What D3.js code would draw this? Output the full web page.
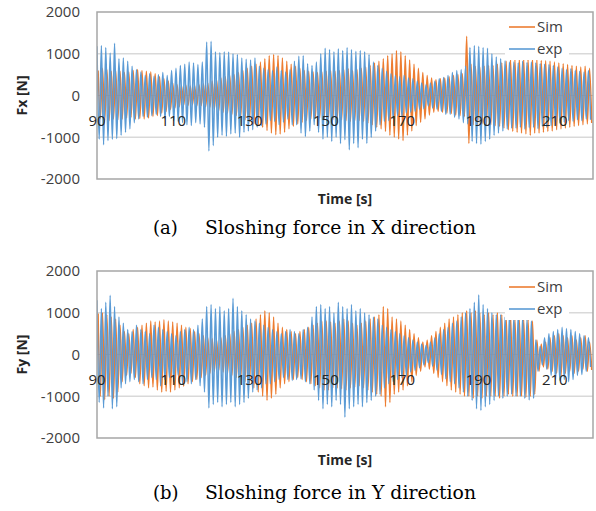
<!DOCTYPE html>
<html>
<head>
<meta charset="utf-8">
<script src="https://cdnjs.cloudflare.com/ajax/libs/d3/7.8.5/d3.min.js"></script>
<style>
  html, body { margin: 0; padding: 0; background: #ffffff; }
  svg { display: block; }
</style>
</head>
<body>
<svg id="chart" width="596" height="511"></svg>
<script>
// ---------------- DATA ----------------
// Time axis
const timeDomain = [90, 220];
const timeTicks = [90, 110, 130, 150, 170, 190, 210];
const forceTicks = [2000, 1000, 0, -1000, -2000];
const seriesNames = ["Sim", "exp"];

// Each series: successive extreme values (peak, trough, ...),
// one extreme per half oscillation (sloshing period ~1.15 s).
const halfPeriod = 0.575;
const startSim = 90.29;
const startExp = 90.0;

const fxSim = [
 600,-550, 650,-600, 620,-600, 580,-560, 600,-580,
 580,-560, 550,-540, 560,-520, 600,-560, 620,-550,
 600,-560, 580,-540, 560,-500, 520,-480, 450,-420,
 400,-380, 350,-340, 300,-300, 260,-270, 240,-230,
 250,-240, 230,-220, 240,-250, 260,-240, 280,-270,
 300,-280, 350,-330, 380,-360, 420,-400, 450,-420,
 480,-450, 500,-480, 550,-520, 600,-580, 650,-620,
 700,-680, 750,-720, 800,-760, 880,-840, 950,-900,
 980,-940, 960,-920, 900,-880, 820,-800, 750,-740,
 700,-680, 650,-640, 600,-600, 580,-560, 560,-540,
 550,-540, 560,-550, 580,-560, 600,-580, 580,-560,
 600,-580, 620,-600, 640,-620, 600,-600, 620,-600,
 650,-620, 680,-660, 720,-700, 780,-760, 820,-800,
 880,-860, 950,-950, 1000,-1000, 1080,-1040, 1050,-1080,
 950,-950, 850,-850, 750,-720, 650,-640, 550,-560,
 480,-470, 420,-400, 380,-380, 400,-400, 420,-420,
 450,-430, 480,-470, 500,-480, 520,-500, 1420,-1150,
 750,-700, 700,-700, 680,-680, 700,-700, 720,-700,
 720,-720, 750,-740, 780,-780, 820,-820, 850,-860,
 860,-880, 880,-900, 870,-920, 860,-950, 880,-900,
 850,-900, 840,-880, 830,-860, 820,-850, 800,-820,
 780,-800, 760,-780, 740,-760, 720,-740, 700,-720,
 680,-700, 700,-680, 650,-660
];

const fxExp = [
 1180,-1050, 1200,-1180, 1150,-1080, 1020,-1050, 1250,-1030,
 880,-950, 900,-880, 820,-800, 700,-650, 620,-560,
 560,-500, 480,-520, 520,-480, 460,-450, 500,-500,
 550,-560, 480,-500, 600,-600, 650,-620, 720,-650,
 750,-700, 800,-720, 780,-650, 740,-680, 800,-760,
 1280,-1330, 1300,-1200, 1050,-1000, 1030,-950, 1050,-980,
 1040,-920, 1000,-900, 980,-1000, 900,-880, 870,-850,
 850,-820, 900,-760, 700,-720, 650,-680, 620,-600,
 600,-620, 680,-700, 600,-640, 560,-560, 620,-700,
 820,-700, 940,-900, 950,-980, 760,-850, 720,-700,
 800,-880, 1000,-1050, 1130,-1000, 1100,-1100, 1050,-1000,
 1120,-1150, 1080,-1060, 1150,-1300, 1100,-1150, 1060,-1250,
 1080,-1050, 1050,-1150, 980,-1000, 800,-850, 720,-700,
 650,-620, 580,-600, 520,-550, 480,-480, 450,-500,
 480,-420, 420,-400, 400,-380, 350,-330, 300,-320,
 260,-250, 300,-300, 350,-330, 400,-380, 430,-450,
 480,-450, 550,-520, 600,-560, 620,-650, 700,-680,
 1150,-1100, 1200,-1150, 1180,-1170, 1150,-1100, 1130,-1050,
 1000,-950, 920,-900, 880,-850, 830,-800, 800,-780,
 800,-780, 780,-760, 820,-800, 790,-770, 800,-760,
 780,-790, 760,-740, 750,-760, 740,-720, 720,-700,
 680,-660, 650,-640, 620,-600, 640,-620, 600,-580,
 580,-600, 560,-560, 600,-580
];

const fySim = [
 980,-1000, 1000,-1080, 950,-1000, 900,-1050, 850,-900,
 700,-650, 550,-500, 500,-450, 600,-550, 650,-700,
 700,-750, 750,-800, 800,-780, 780,-850, 800,-900,
 830,-880, 800,-900, 780,-850, 750,-800, 700,-760,
 650,-700, 620,-650, 550,-600, 500,-550, 450,-500,
 400,-450, 380,-400, 350,-380, 400,-420, 450,-450,
 500,-500, 550,-550, 600,-600, 650,-650, 700,-700,
 750,-800, 850,-900, 950,-1000, 1050,-1100, 1000,-1050,
 900,-950, 750,-800, 650,-700, 600,-650, 550,-600,
 500,-550, 550,-600, 600,-650, 650,-700, 700,-750,
 750,-800, 800,-850, 800,-850, 780,-800, 750,-800,
 800,-820, 850,-850, 800,-800, 750,-780, 700,-750,
 750,-800, 800,-850, 850,-900, 900,-950, 950,-1000,
 1150,-1250, 1100,-1150, 900,-950, 850,-900, 800,-850,
 700,-750, 600,-650, 500,-500, 400,-400, 300,-300,
 350,-350, 450,-450, 550,-550, 650,-650, 750,-750,
 850,-850, 900,-900, 950,-950, 1000,-1000, 1050,-1000,
 1000,-1050, 1050,-1000, 1000,-1050, 950,-1000, 1000,-1000,
 950,-1000, 1000,-1050, 950,-1000, 900,-950, 950,-1000,
 850,-1000, 830,-1000, 830,-1020, 830,-1000, 800,-950,
 350,-400, 250,-300, 300,-350, 400,-400, 450,-450,
 500,-500, 450,-450, 400,-400, 450,-450, 350,-400,
 400,-350, 450,-400, 300,-370
];

const fyExp = [
 1300,-1150, 1100,-1280, 1250,-1000, 1420,-1300, 1150,-1250,
 900,-800, 750,-700, 600,-650, 550,-600, 700,-650,
 600,-700, 550,-600, 500,-550, 700,-600, 650,-750,
 600,-600, 550,-550, 500,-650, 450,-500, 550,-700,
 600,-650, 650,-700, 600,-600, 700,-750, 850,-900,
 1150,-1280, 1200,-1200, 1100,-1150, 1150,-1250, 1050,-1200,
 1100,-1150, 1350,-1250, 1150,-1200, 1050,-1150, 950,-1050,
 850,-900, 800,-850, 750,-800, 700,-700, 650,-700,
 600,-650, 550,-600, 500,-550, 550,-600, 600,-620,
 550,-600, 500,-580, 600,-650, 650,-700, 900,-850,
 1150,-1100, 1200,-1300, 1100,-1200, 1150,-1250, 1000,-1100,
 1250,-1200, 1150,-1500, 1100,-1300, 1200,-1250, 1050,-1200,
 1100,-1250, 1000,-1150, 950,-1100, 900,-1000, 850,-950,
 700,-800, 650,-700, 600,-650, 550,-600, 500,-550,
 450,-500, 400,-420, 350,-380, 300,-320, 250,-250,
 220,-200, 300,-280, 400,-380, 500,-480, 600,-580,
 650,-650, 750,-700, 800,-800, 900,-900, 1000,-1000,
 1100,-1100, 1250,-1300, 1430,-1340, 1200,-1250, 1100,-1200,
 1000,-1100, 950,-1000, 950,-1050, 900,-1000, 950,-950,
 900,-1000, 950,-1000, 900,-1050, 850,-1090, 800,-1050,
 350,-400, 200,-250, 400,-350, 500,-500, 550,-600,
 600,-620, 650,-600, 620,-650, 600,-600, 550,-500,
 500,-480, 450,-400, 400,-300
];

// ---------------- CHART ----------------
const svg = d3.select("#chart");
const colors = { Sim: "#ED7D31", exp: "#5B9BD5" };

const panels = [
  { top: 12, bottom: 179, yTitle: "Fx [N]", sim: fxSim, exp: fxExp,
    caption: "Sloshing force in X direction", tag: "(a)", timeY: 199, captionY: 234, legendY: 27 },
  { top: 271, bottom: 438, yTitle: "Fy [N]", sim: fySim, exp: fyExp,
    caption: "Sloshing force in Y direction", tag: "(b)", timeY: 460, captionY: 499, legendY: 287 }
];

const left = 97, right = 593;
const x = d3.scaleLinear().domain(timeDomain).range([left, right]);

panels.forEach((p, pi) => {
  const y = d3.scaleLinear().domain([-2000, 2000]).range([p.bottom, p.top]);
  const g = svg.append("g");

  const clipId = "clip" + pi;
  svg.append("clipPath").attr("id", clipId)
    .append("rect").attr("x", left).attr("y", p.top)
    .attr("width", right - left).attr("height", p.bottom - p.top);

  // gridlines
  g.append("g").selectAll("line").data([1000, -1000]).join("line")
    .attr("x1", left).attr("x2", right)
    .attr("y1", d => y(d)).attr("y2", d => y(d))
    .attr("stroke", "#D9D9D9").attr("stroke-width", 1.5);

  // zero line
  g.append("line").attr("x1", left).attr("x2", right)
    .attr("y1", y(0)).attr("y2", y(0))
    .attr("stroke", "#BFBFBF").attr("stroke-width", 1.2);

  // series
  const line = d3.line()
    .x(d => x(d.t)).y(d => y(d.v))
    .curve(d3.curveMonotoneX);
  const mk = (arr, t0) => arr.map((v, i) => ({ t: t0 + i * halfPeriod, v }));

  const sg = g.append("g").attr("clip-path", `url(#${clipId})`);
  sg.append("path").datum(mk(p.sim, startSim))
    .attr("d", line).attr("fill", "none")
    .attr("stroke", colors.Sim).attr("stroke-width", 1.5);
  sg.append("path").datum(mk(p.exp, startExp))
    .attr("d", line).attr("fill", "none")
    .attr("stroke", colors.exp).attr("stroke-width", 1.5);

  // plot border
  g.append("rect").attr("x", left).attr("y", p.top)
    .attr("width", right - left).attr("height", p.bottom - p.top)
    .attr("fill", "none").attr("stroke", "#A6A6A6").attr("stroke-width", 1.5);

  // y axis labels
  g.append("g").selectAll("text").data(forceTicks).join("text")
    .attr("x", 80).attr("y", d => y(d)).attr("dy", "0.36em")
    .attr("text-anchor", "end")
    .attr("font-family", "'Open Sans', sans-serif").attr("font-size", 15)
    .attr("fill", "#404040")
    .text(d => d);

  // x axis labels (next to the zero line)
  g.append("g").selectAll("text").data(timeTicks).join("text")
    .attr("x", d => x(d)).attr("y", y(0) + 25).attr("dy", "0.36em")
    .attr("text-anchor", "middle")
    .attr("font-family", "'Open Sans', sans-serif").attr("font-size", 15)
    .attr("fill", "#262626")
    .text(d => d);

  // y title
  g.append("text")
    .attr("transform", `translate(27,${y(0)}) rotate(-90)`)
    .attr("text-anchor", "middle")
    .attr("font-family", "'Open Sans', sans-serif").attr("font-size", 14)
    .attr("font-weight", "bold").attr("fill", "#262626")
    .text(p.yTitle);

  // x title
  g.append("text")
    .attr("x", 345).attr("y", p.timeY).attr("dy", "0.36em")
    .attr("text-anchor", "middle")
    .attr("font-family", "'Open Sans', sans-serif").attr("font-size", 14)
    .attr("font-weight", "bold").attr("fill", "#262626")
    .text("Time [s]");

  // legend
  const lg = g.append("g");
  lg.append("rect").attr("x", 505).attr("y", p.legendY - 11)
    .attr("width", 64).attr("height", 44).attr("fill", "#ffffff");
  seriesNames.forEach((name, i) => {
    const ly = p.legendY + i * 22;
    lg.append("line").attr("x1", 509).attr("x2", 535)
      .attr("y1", ly).attr("y2", ly)
      .attr("stroke", colors[name]).attr("stroke-width", 1.6);
    lg.append("text").attr("x", 537).attr("y", ly).attr("dy", "0.36em")
      .attr("font-family", "'Open Sans', sans-serif").attr("font-size", 15)
      .attr("fill", "#404040").text(name);
  });

  // caption
  svg.append("text").attr("x", 153).attr("y", p.captionY)
    .attr("font-family", "'DejaVu Serif', serif").attr("font-size", 18)
    .attr("fill", "#000").text(p.tag);
  svg.append("text").attr("x", 205).attr("y", p.captionY)
    .attr("font-family", "'DejaVu Serif', serif").attr("font-size", 18)
    .attr("textLength", 271).attr("lengthAdjust", "spacingAndGlyphs")
    .attr("fill", "#000").text(p.caption);
});
</script>
</body>
</html>
